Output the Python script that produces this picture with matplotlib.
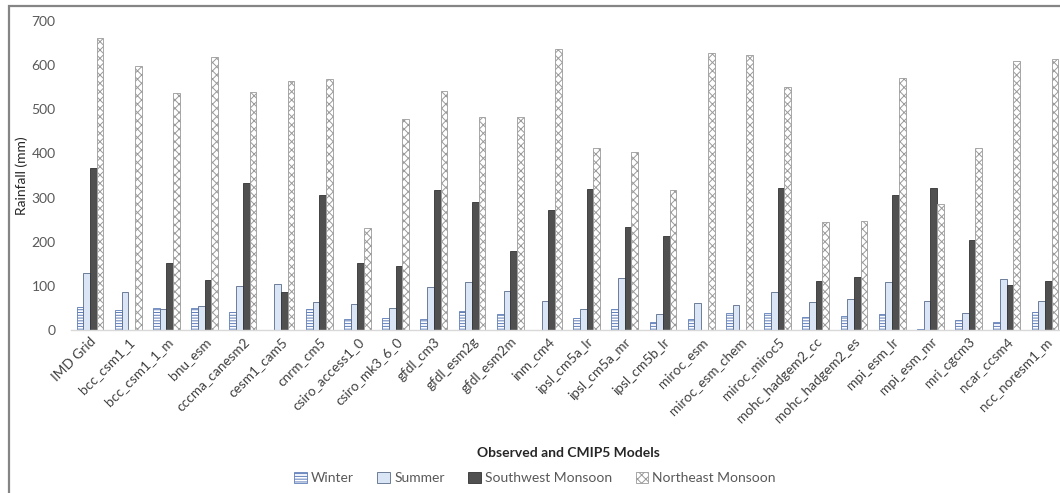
import numpy as np
import matplotlib
matplotlib.use('Agg')
import matplotlib.pyplot as plt
from matplotlib.patches import Rectangle

plt.rcParams['font.family'] = ['Lato', 'DejaVu Sans']
plt.rcParams['hatch.linewidth'] = 0.7

models = ['IMD Grid', 'bcc_csm1_1', 'bcc_csm1_1_m', 'bnu_esm', 'cccma_canesm2',
          'cesm1_cam5', 'cnrm_cm5', 'csiro_access1_0', 'csiro_mk3_6_0', 'gfdl_cm3',
          'gfdl_esm2g', 'gfdl_esm2m', 'inm_cm4', 'ipsl_cm5a_lr', 'ipsl_cm5a_mr',
          'ipsl_cm5b_lr', 'miroc_esm', 'miroc_esm_chem', 'miroc_miroc5',
          'mohc_hadgem2_cc', 'mohc_hadgem2_es', 'mpi_esm_lr', 'mpi_esm_mr',
          'mri_cgcm3', 'ncar_ccsm4', 'ncc_noresm1_m']

winter = [51, 45, 49, 49, 41, 0, 47, 24, 28, 25, 43, 36, 0, 28, 47, 17, 24, 38,
          38, 29, 32, 36, 2, 23, 19, 41]
summer = [128, 85, 48, 54, 100, 104, 63, 60, 49, 98, 109, 88, 66, 47, 117, 36,
          61, 56, 85, 64, 70, 109, 66, 38, 115, 66]
southwest = [368, 0, 151, 113, 334, 85, 306, 151, 146, 317, 291, 180, 271, 320,
             234, 214, 0, 0, 322, 111, 119, 306, 322, 204, 102, 111]
northeast = [662, 598, 536, 618, 539, 563, 569, 232, 478, 541, 482, 482, 636,
             412, 403, 317, 627, 623, 551, 245, 248, 572, 285, 413, 609, 613]

fig = plt.figure(figsize=(10.6, 4.93), dpi=100)
W, H = 1060, 493

# the plot runs a little past the right edge of the figure
ax = fig.add_axes([71 / W, (H - 330) / H, 993 / W, 309 / H])

x = np.arange(len(models))
w = 0.175
ax.bar(x - 1.5 * w, winter, w, facecolor='white', edgecolor='#5d7cb8',
       hatch='------', linewidth=0.6, label='Winter')
ax.bar(x - 0.5 * w, summer, w, facecolor='#dae5f6', edgecolor='#5a6b88',
       linewidth=0.6, label='Summer')
ax.bar(x + 0.5 * w, southwest, w, facecolor='#505050', edgecolor='#333333',
       linewidth=0.6, label='Southwest Monsoon')
ax.bar(x + 1.5 * w, northeast, w, facecolor='white', edgecolor='#9a9a9a',
       hatch='xxxx', linewidth=0.6, label='Northeast Monsoon')

ax.set_xlim(-0.5, len(models) - 0.5)
ax.set_ylim(0, 700)
ax.set_yticks(range(0, 701, 100))
ax.set_xticks(x)
ax.set_xticklabels(models, rotation=45, ha='right', rotation_mode='anchor',
                   fontsize=9.8, color='#404040')
ax.tick_params(axis='y', length=0, pad=11, labelsize=10, labelcolor='#595959')
ax.tick_params(axis='x', length=0, pad=4)
for s in ['top', 'right', 'left']:
    ax.spines[s].set_visible(False)
ax.spines['bottom'].set_color('#d9d9d9')
ax.spines['bottom'].set_linewidth(1)

fig.text(22 / W, 1 - 176 / H, 'Rainfall (mm)', rotation=90, ha='center',
         va='center', fontsize=10, color='#262626')
fig.text(568 / W, 1 - 453 / H, 'Observed and CMIP5 Models', ha='center',
         va='center', fontsize=10, fontweight='bold', color='#262626')

leg = fig.legend(loc='center', bbox_to_anchor=(535 / W, 1 - 478 / H), ncol=4,
                 frameon=False, fontsize=10, handlelength=0.9, handleheight=0.9,
                 handletextpad=0.3, columnspacing=1.7)
for t in leg.get_texts():
    t.set_color('#595959')

# outer chart border
fig.add_artist(Rectangle((9 / W, -0.1), 1.2, 1 - 6 / H + 0.1,
                         transform=fig.transFigure, fill=False,
                         edgecolor='#858585', linewidth=1.6))

fig.savefig('out.png', dpi=100)
